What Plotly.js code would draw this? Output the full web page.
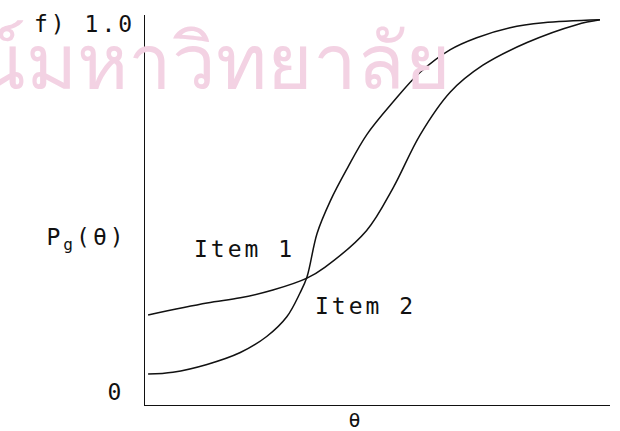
<!DOCTYPE html>
<html>
<head>
<meta charset="utf-8">
<script src="https://cdn.plot.ly/plotly-3.0.1.min.js"></script>
<style>
  html, body { margin: 0; padding: 0; background: #fff; }
  #chart { width: 620px; height: 431px; }
  /* typewriter-like spacing for the figure's labels */
  #chart .annotation-text { letter-spacing: 3px; }
  #chart .annotation[data-index="0"] .annotation-text { letter-spacing: 0; }
</style>
</head>
<body>
<div id="chart"></div>
<script>
// Item characteristic curves: probability of a correct answer P_g(θ) against ability θ
const thetaItem1 = [-2.96, -2.20, -1.77, -1.35, -0.91, -0.68, -0.14, 0.20, 0.55, 0.94, 1.36, 1.93, 2.57, 2.87];
const probItem1  = [0.207, 0.239, 0.253, 0.274, 0.306, 0.335, 0.434, 0.548, 0.691, 0.806, 0.878, 0.939, 0.987, 1.0];

const thetaItem2 = [-2.96, -2.64, -2.20, -1.77, -1.43, -1.17, -1.00, -0.91, -0.78, -0.61, -0.39, -0.14, 0.20, 0.55, 0.94, 1.28, 1.71, 2.14, 2.87];
const probItem2  = [0.048, 0.053, 0.074, 0.106, 0.149, 0.202, 0.266, 0.309, 0.426, 0.513, 0.601, 0.691, 0.779, 0.859, 0.920, 0.952, 0.979, 0.992, 1.0];

const yTickVals = [0, 1];
const yTickText = ["0", "1.0"];
const panelLabel = "f)";
const curveNames = ["Item 1", "Item 2"];

const ink = "#111";
const typeFont = "DejaVu Sans Mono, Liberation Mono, monospace";
const labelFont = { family: typeFont, size: 23, color: ink };

const lineStyle = { color: ink, width: 1.5, shape: "spline", smoothing: 1.0 };

const traces = [
  { x: thetaItem1, y: probItem1, mode: "lines", line: lineStyle, name: curveNames[0], hoverinfo: "skip" },
  { x: thetaItem2, y: probItem2, mode: "lines", line: lineStyle, name: curveNames[1], hoverinfo: "skip" }
];

const annotations = [
  // faint library stamp behind the plot
  { text: "ณ์มหาวิทยาลัย", xref: "paper", yref: "paper", x: -0.415, y: 1.028, xanchor: "left", yanchor: "top",
    showarrow: false, font: { family: "Noto Sans, DejaVu Sans, sans-serif", size: 78, color: "#f3d2e3" } },
  // panel letter with the top tick label, then the bottom tick label
  { text: panelLabel + " " + yTickText[1], xref: "paper", yref: "y", x: -0.036, y: yTickVals[1], yshift: -4,
    xanchor: "right", yanchor: "middle", showarrow: false, font: labelFont },
  { text: yTickText[0], xref: "paper", yref: "y", x: -0.043, y: yTickVals[0], xanchor: "right", yanchor: "middle",
    showarrow: false, font: labelFont },
  // axis titles
  { text: "P<sub>g</sub>(θ)", xref: "paper", yref: "y", x: -0.052, y: 0.41, xanchor: "right", yanchor: "middle",
    showarrow: false, font: labelFont },
  { text: "θ", xref: "x", yref: "paper", x: -0.28, y: -0.038, xanchor: "center", yanchor: "middle",
    showarrow: false, font: { family: typeFont, size: 20, color: ink } },
  // curve labels
  { text: curveNames[0], xref: "x", yref: "y", x: -1.71, y: 0.384, xanchor: "center", yanchor: "middle",
    showarrow: false, font: labelFont },
  { text: curveNames[1], xref: "x", yref: "y", x: -0.16, y: 0.231, xanchor: "center", yanchor: "middle",
    showarrow: false, font: labelFont }
];

const layout = {
  width: 620, height: 431,
  margin: { l: 145, r: 10, t: 15, b: 26 },
  paper_bgcolor: "#fff", plot_bgcolor: "rgba(0,0,0,0)",
  showlegend: false,
  xaxis: { range: [-3, 3], showgrid: false, zeroline: false, showticklabels: false, ticks: "",
           showline: true, linecolor: ink, linewidth: 1.2 },
  yaxis: { range: [-0.035, 1.013], showgrid: false, zeroline: false, showticklabels: false, ticks: "",
           showline: true, linecolor: ink, linewidth: 1.2 },
  annotations: annotations
};

Plotly.newPlot("chart", traces, layout, { staticPlot: true, displayModeBar: false });
</script>
</body>
</html>
